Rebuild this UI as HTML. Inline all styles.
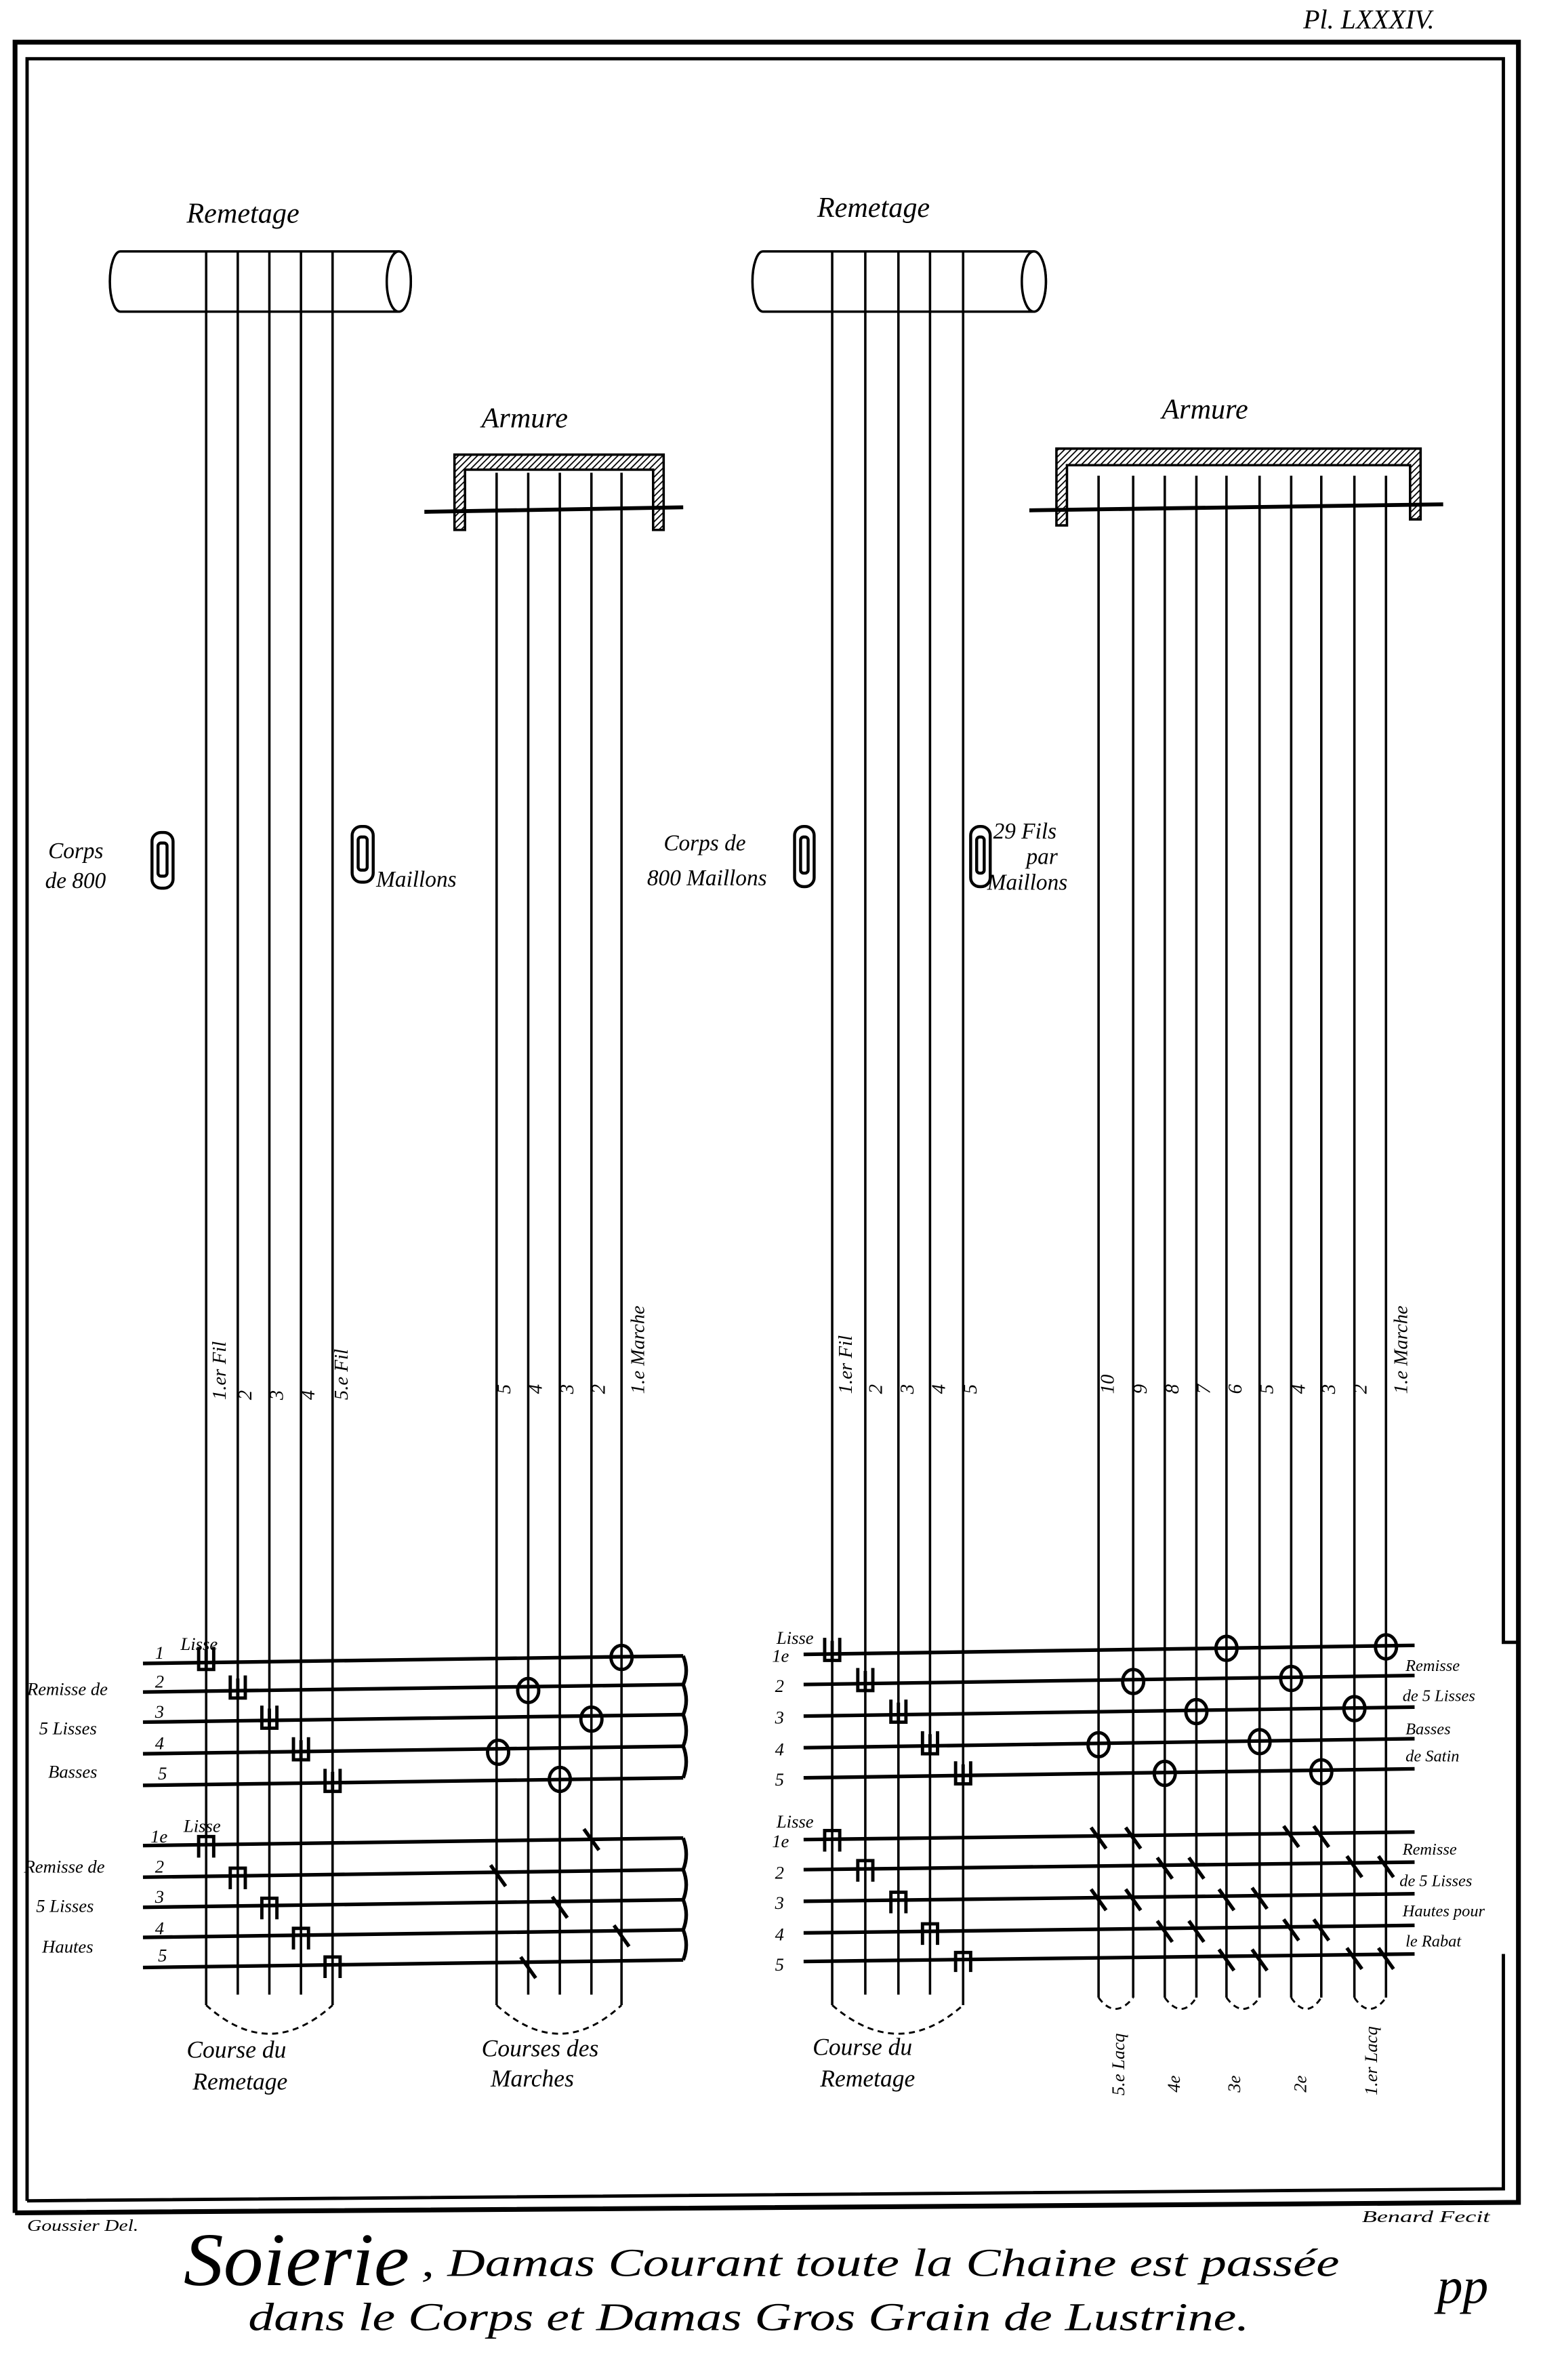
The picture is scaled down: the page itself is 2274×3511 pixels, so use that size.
<!DOCTYPE html>
<html><head><meta charset="utf-8"><style>
html,body{margin:0;padding:0;background:#fff}
svg{display:block}
text{font-family:"Liberation Serif",serif;font-style:italic;fill:#000}
</style></head><body>
<svg width="2274" height="3511" viewBox="0 0 1024 1581" xmlns="http://www.w3.org/2000/svg">
<defs>
<pattern id="h" width="3" height="3" patternUnits="userSpaceOnUse" patternTransform="rotate(45)">
<rect width="3" height="3" fill="#fff"/><line x1="0" y1="0" x2="0" y2="3" stroke="#000" stroke-width="1.6"/></pattern>
</defs>
<!-- frame -->
<g fill="none" stroke="#000">
<path d="M10,1470 V28 H1009 V1463 L10,1470" stroke-width="3.2"/>
<path d="M18,1462 V39 H999 V1091 H1009 M999,1298 V1454 L18,1462" stroke-width="2.2"/>
</g>
<text x="866" y="19" font-size="18">Pl. LXXXIV.</text>

<!-- cylinders -->
<g fill="#fff" stroke="#000" stroke-width="1.6">
<path d="M80,167 H265 A8,20 0 0 1 265,207 H80 A7,20 0 0 1 80,167 Z"/>
<ellipse cx="265" cy="187" rx="8" ry="20"/>
<path d="M507,167 H687 A8,20 0 0 1 687,207 H507 A7,20 0 0 1 507,167 Z"/>
<ellipse cx="687" cy="187" rx="8" ry="20"/>
</g>
<text x="124" y="148" font-size="19">Remetage</text>
<text x="543" y="144" font-size="19">Remetage</text>
<text x="320" y="284" font-size="19">Armure</text>
<text x="772" y="278" font-size="19">Armure</text>

<!-- armure boxes -->
<g stroke="#000" stroke-width="1.6" fill="url(#h)">
<path d="M302,352 V302 H441 V352 H434 V312 H309 V352 Z"/>
<path d="M702,349 V298 H944 V345 H937 V309 H709 V349 Z"/>
</g>
<g stroke="#000" stroke-width="2.6">
<line x1="282" y1="340" x2="454" y2="337"/>
<line x1="684" y1="339" x2="959" y2="335"/>
</g>

<!-- threads -->
<g stroke="#000" stroke-width="1.6">
<line x1="137" y1="167" x2="137" y2="1332"/><line x1="158" y1="167" x2="158" y2="1325"/><line x1="179" y1="167" x2="179" y2="1325"/><line x1="200" y1="167" x2="200" y2="1325"/><line x1="221" y1="167" x2="221" y2="1332"/>
<line x1="330" y1="314" x2="330" y2="1332"/><line x1="351" y1="314" x2="351" y2="1325"/><line x1="372" y1="314" x2="372" y2="1325"/><line x1="393" y1="314" x2="393" y2="1325"/><line x1="413" y1="314" x2="413" y2="1332"/>
<line x1="553" y1="167" x2="553" y2="1332"/><line x1="575" y1="167" x2="575" y2="1325"/><line x1="597" y1="167" x2="597" y2="1325"/><line x1="618" y1="167" x2="618" y2="1325"/><line x1="640" y1="167" x2="640" y2="1332"/>
<line x1="730" y1="316" x2="730" y2="1327"/><line x1="753" y1="316" x2="753" y2="1327"/><line x1="774" y1="316" x2="774" y2="1327"/><line x1="795" y1="316" x2="795" y2="1327"/><line x1="815" y1="316" x2="815" y2="1327"/><line x1="837" y1="316" x2="837" y2="1327"/><line x1="858" y1="316" x2="858" y2="1327"/><line x1="878" y1="316" x2="878" y2="1327"/><line x1="900" y1="316" x2="900" y2="1327"/><line x1="921" y1="316" x2="921" y2="1327"/>
</g>
<!-- dashed arcs -->
<g fill="none" stroke="#000" stroke-width="1.3" stroke-dasharray="4,3">
<path d="M137,1332 Q179,1370 221,1332"/><path d="M330,1332 Q372,1370 413,1332"/><path d="M553,1332 Q597,1370 640,1332"/>
<path d="M730,1327 Q741,1342 753,1327"/><path d="M774,1327 Q785,1342 795,1327"/><path d="M815,1327 Q826,1342 837,1327"/><path d="M858,1327 Q868,1342 878,1327"/><path d="M900,1327 Q910,1342 921,1327"/>
</g>

<!-- horizontal lisse lines -->
<g stroke="#000" stroke-width="2.4" fill="none">
<line x1="95" y1="1105" x2="454" y2="1100"/><line x1="95" y1="1124" x2="454" y2="1119"/><line x1="95" y1="1144" x2="454" y2="1139"/><line x1="95" y1="1165" x2="454" y2="1160"/><line x1="95" y1="1186" x2="454" y2="1181"/>
<path d="M454,1100 Q458,1110 454,1119 Q458,1130 454,1139 Q458,1150 454,1160 Q458,1170 454,1181"/>
<line x1="95" y1="1226" x2="454" y2="1221"/><line x1="95" y1="1247" x2="454" y2="1242"/><line x1="95" y1="1267" x2="454" y2="1262"/><line x1="95" y1="1287" x2="454" y2="1282"/><line x1="95" y1="1307" x2="454" y2="1302"/>
<path d="M454,1221 Q458,1232 454,1242 Q458,1252 454,1262 Q458,1272 454,1282 Q458,1292 454,1302"/>
<line x1="534" y1="1099" x2="940" y2="1093"/><line x1="534" y1="1119" x2="940" y2="1113"/><line x1="534" y1="1140" x2="940" y2="1134"/><line x1="534" y1="1161" x2="940" y2="1155"/><line x1="534" y1="1181" x2="940" y2="1175"/>
<line x1="534" y1="1222" x2="940" y2="1217"/><line x1="534" y1="1242" x2="940" y2="1237"/><line x1="534" y1="1263" x2="940" y2="1258"/><line x1="534" y1="1284" x2="940" y2="1279"/><line x1="534" y1="1303" x2="940" y2="1298"/>
</g>

<!-- heddles -->
<g stroke="#000" stroke-width="2.2" fill="none">
<path d="M132,1094 V1109 H142 V1094 M137,1096 V1109"/>
<path d="M153,1113 V1128 H163 V1113 M158,1115 V1128"/>
<path d="M174,1133 V1148 H184 V1133 M179,1135 V1148"/>
<path d="M195,1154 V1169 H205 V1154 M200,1156 V1169"/>
<path d="M216,1175 V1190 H226 V1175 M221,1177 V1190"/>
<path d="M132,1234 V1220 H142 V1234"/>
<path d="M153,1255 V1241 H163 V1255"/>
<path d="M174,1275 V1261 H184 V1275"/>
<path d="M195,1295 V1281 H205 V1295"/>
<path d="M216,1314 V1300 H226 V1314"/>
<path d="M548,1088 V1103 H558 V1088 M553,1090 V1103"/>
<path d="M570,1108 V1123 H580 V1108 M575,1110 V1123"/>
<path d="M592,1129 V1144 H602 V1129 M597,1131 V1144"/>
<path d="M613,1150 V1165 H623 V1150 M618,1152 V1165"/>
<path d="M635,1170 V1185 H645 V1170 M640,1172 V1185"/>
<path d="M548,1230 V1216 H558 V1230"/>
<path d="M570,1250 V1236 H580 V1250"/>
<path d="M592,1271 V1257 H602 V1271"/>
<path d="M613,1292 V1278 H623 V1292"/>
<path d="M635,1310 V1297 H645 V1310"/>
</g>

<!-- circles -->
<g stroke="#000" stroke-width="2.2" fill="none">
<ellipse cx="413" cy="1101" rx="7" ry="8"/><ellipse cx="351" cy="1123" rx="7" ry="8"/><ellipse cx="393" cy="1142" rx="7" ry="8"/><ellipse cx="331" cy="1164" rx="7" ry="8"/><ellipse cx="372" cy="1182" rx="7" ry="8"/>
<ellipse cx="815" cy="1095" rx="7" ry="8"/><ellipse cx="921" cy="1094" rx="7" ry="8"/>
<ellipse cx="753" cy="1117" rx="7" ry="8"/><ellipse cx="858" cy="1115" rx="7" ry="8"/>
<ellipse cx="795" cy="1137" rx="7" ry="8"/><ellipse cx="900" cy="1135" rx="7" ry="8"/>
<ellipse cx="730" cy="1159" rx="7" ry="8"/><ellipse cx="837" cy="1157" rx="7" ry="8"/>
<ellipse cx="774" cy="1178" rx="7" ry="8"/><ellipse cx="878" cy="1177" rx="7" ry="8"/>
</g>
<!-- ticks -->
<g stroke="#000" stroke-width="2.4">
<path d="M388,1215 l10,14 M326,1239 l10,14 M367,1260 l10,14 M408,1279 l10,14 M346,1300 l10,14"/>
<path d="M725,1214 l10,14 M748,1214 l10,14 M853,1213 l10,14 M873,1213 l10,14"/>
<path d="M769,1234 l10,14 M790,1234 l10,14 M895,1233 l10,14 M916,1233 l10,14"/>
<path d="M725,1255 l10,14 M748,1255 l10,14 M810,1255 l10,14 M832,1254 l10,14"/>
<path d="M769,1276 l10,14 M790,1276 l10,14 M853,1275 l10,14 M873,1275 l10,14"/>
<path d="M810,1295 l10,14 M832,1295 l10,14 M895,1294 l10,14 M916,1294 l10,14"/>
</g>

<!-- maillon icons -->
<g stroke="#000" stroke-width="2" fill="#fff">
<rect x="101" y="553" width="14" height="37" rx="6"/><rect x="105" y="560" width="6" height="22" rx="2"/>
<rect x="234" y="549" width="14" height="37" rx="6"/><rect x="238" y="556" width="6" height="22" rx="2"/>
<rect x="528" y="549" width="13" height="40" rx="6"/><rect x="532" y="556" width="5" height="24" rx="2"/>
<rect x="645" y="549" width="13" height="40" rx="6"/><rect x="649" y="556" width="5" height="24" rx="2"/>
</g>
<g font-size="15">
<text x="32" y="570">Corps</text><text x="30" y="590">de 800</text>
<text x="250" y="589">Maillons</text>
<text x="441" y="565">Corps de</text><text x="430" y="588">800 Maillons</text>
<text x="660" y="557">29 Fils</text><text x="682" y="574">par</text><text x="656" y="591">Maillons</text>
</g>

<!-- vertical labels -->
<g font-size="13">
<text transform="translate(150,930) rotate(-90)">1.er Fil</text>
<text transform="translate(167,930) rotate(-90)">2</text>
<text transform="translate(188,930) rotate(-90)">3</text>
<text transform="translate(209,930) rotate(-90)">4</text>
<text transform="translate(231,930) rotate(-90)">5.e Fil</text>
<text transform="translate(339,926) rotate(-90)">5</text>
<text transform="translate(360,926) rotate(-90)">4</text>
<text transform="translate(381,926) rotate(-90)">3</text>
<text transform="translate(402,926) rotate(-90)">2</text>
<text transform="translate(428,926) rotate(-90)">1.e Marche</text>
<text transform="translate(566,926) rotate(-90)">1.er Fil</text>
<text transform="translate(586,926) rotate(-90)">2</text>
<text transform="translate(607,926) rotate(-90)">3</text>
<text transform="translate(628,926) rotate(-90)">4</text>
<text transform="translate(649,926) rotate(-90)">5</text>
<text transform="translate(740,926) rotate(-90)">10</text>
<text transform="translate(762,926) rotate(-90)">9</text>
<text transform="translate(783,926) rotate(-90)">8</text>
<text transform="translate(804,926) rotate(-90)">7</text>
<text transform="translate(825,926) rotate(-90)">6</text>
<text transform="translate(846,926) rotate(-90)">5</text>
<text transform="translate(867,926) rotate(-90)">4</text>
<text transform="translate(887,926) rotate(-90)">3</text>
<text transform="translate(908,926) rotate(-90)">2</text>
<text transform="translate(935,926) rotate(-90)">1.e Marche</text>
</g>

<!-- left labels -->
<g font-size="12">
<text x="120" y="1096">Lisse</text>
<text x="103" y="1102">1</text><text x="103" y="1121">2</text><text x="103" y="1141">3</text><text x="103" y="1162">4</text><text x="105" y="1182">5</text>
<text x="18" y="1126">Remisse de</text><text x="26" y="1152">5 Lisses</text><text x="32" y="1181">Basses</text>
<text x="122" y="1217">Lisse</text>
<text x="100" y="1224">1e</text><text x="103" y="1244">2</text><text x="103" y="1264">3</text><text x="103" y="1285">4</text><text x="105" y="1303">5</text>
<text x="16" y="1244">Remisse de</text><text x="24" y="1270">5 Lisses</text><text x="28" y="1297">Hautes</text>
<text x="516" y="1092">Lisse</text>
<text x="513" y="1104">1e</text><text x="515" y="1124">2</text><text x="515" y="1145">3</text><text x="515" y="1166">4</text><text x="515" y="1186">5</text>
<text x="516" y="1214">Lisse</text>
<text x="513" y="1227">1e</text><text x="515" y="1248">2</text><text x="515" y="1268">3</text><text x="515" y="1289">4</text><text x="515" y="1309">5</text>
</g>
<g font-size="11">
<text x="934" y="1110">Remisse</text><text x="932" y="1130">de 5 Lisses</text><text x="934" y="1152">Basses</text><text x="934" y="1170">de Satin</text>
<text x="932" y="1232">Remisse</text><text x="930" y="1253">de 5 Lisses</text><text x="932" y="1273">Hautes pour</text><text x="934" y="1293">le Rabat</text>
</g>
<g font-size="16">
<text x="124" y="1367">Course du</text><text x="128" y="1388">Remetage</text>
<text x="320" y="1366">Courses des</text><text x="326" y="1386">Marches</text>
<text x="540" y="1365">Course du</text><text x="545" y="1386">Remetage</text>
</g>
<g font-size="12">
<text transform="translate(747,1392) rotate(-90)">5.e Lacq</text>
<text transform="translate(784,1390) rotate(-90)">4e</text>
<text transform="translate(824,1390) rotate(-90)">3e</text>
<text transform="translate(868,1390) rotate(-90)">2e</text>
<text transform="translate(915,1392) rotate(-90)">1.er Lacq</text>
</g>

<!-- captions -->
<text x="18" y="1482" font-size="11" textLength="74" lengthAdjust="spacingAndGlyphs">Goussier Del.</text>
<text x="905" y="1476" font-size="11" textLength="85" lengthAdjust="spacingAndGlyphs">Benard Fecit</text>
<text x="122" y="1518" font-size="50" textLength="150" lengthAdjust="spacingAndGlyphs">Soierie</text>
<text x="280" y="1512" font-size="26" textLength="610" lengthAdjust="spacingAndGlyphs">, Damas Courant toute la Chaine est passée</text>
<text x="165" y="1548" font-size="26" textLength="665" lengthAdjust="spacingAndGlyphs">dans le Corps et Damas Gros Grain de Lustrine.</text>
<text x="955" y="1530" font-size="34">pp</text>
</svg>
</body></html>
